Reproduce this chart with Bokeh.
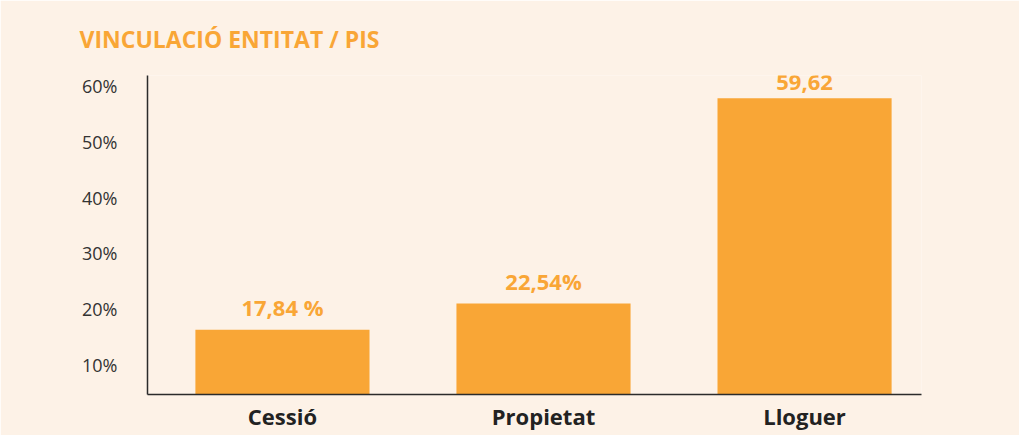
from bokeh.plotting import figure
from bokeh.models import Range1d, LinearAxis, FixedTicker, ColumnDataSource, Title
from bokeh.core.properties import value
from bokeh.embed import file_html
from bokeh.resources import INLINE

title_text = "VINCULACIÓ ENTITAT / PIS"
categories = ["Cessió", "Propietat", "Lloguer"]
values = [17.84, 22.54, 59.62]
value_labels = ["17,84 %", "22,54%", "59,62"]
y_ticks = [10, 20, 30, 40, 50, 60]

BG = "#fdf2e7"
ORANGE = "#f9a636"
DARK = "#2b2b2b"
FONT = "Open Sans"

xs = list(range(len(categories)))
src = ColumnDataSource(dict(x=xs, top=values, lab=value_labels))

p = figure(width=1019, height=435, output_backend="svg", toolbar_location=None,
           x_range=Range1d(-0.517, 2.448), y_range=Range1d(6.12, 63.75),
           min_border_left=147, min_border_right=98, min_border_top=74,
           min_border_bottom=41, y_axis_location=None)
p.background_fill_color = BG
p.border_fill_color = BG
p.outline_line_color = None
p.grid.visible = False

t = Title(text=title_text, text_color=ORANGE, text_font=FONT, text_font_size="23px",
          text_font_style="bold", align="left", offset=-68, standoff=41)
p.add_layout(t, "above")

p.vbar(x="x", top="top", bottom=0, width=0.667, source=src, color=ORANGE, line_color=None)
p.text(x="x", y="top", text="lab", source=src, text_align="center",
       text_baseline="bottom", y_offset=-8, text_color=ORANGE,
       text_font=value(FONT), text_font_size="22px", text_font_style="bold")

# label axis (tick labels drawn slightly above the bar scale, as in the original)
p.extra_y_ranges = {"lab": Range1d(4.62, 61.97)}
ya = LinearAxis(y_range_name="lab", ticker=FixedTicker(ticks=y_ticks),
                major_label_overrides={v: f"{v}%" for v in y_ticks})
ya.axis_line_color = DARK
ya.axis_line_width = 1.5
ya.major_tick_line_color = None
ya.minor_tick_line_color = None
ya.major_tick_out = 0
ya.major_label_standoff = 30
ya.major_label_text_font = FONT
ya.major_label_text_font_size = "18px"
ya.major_label_text_color = "#333333"
p.add_layout(ya, "left")

xa = p.xaxis[0]
xa.ticker = FixedTicker(ticks=xs)
xa.major_label_overrides = {i: c for i, c in zip(xs, categories)}
xa.axis_line_color = DARK
xa.axis_line_width = 1.5
xa.major_tick_line_color = None
xa.minor_tick_line_color = None
xa.major_tick_out = 0
xa.major_label_standoff = 6
xa.major_label_text_font = FONT
xa.major_label_text_font_size = "22px"
xa.major_label_text_font_style = "bold"
xa.major_label_text_color = "#222222"

open("out.html", "w").write(file_html(p, INLINE))
